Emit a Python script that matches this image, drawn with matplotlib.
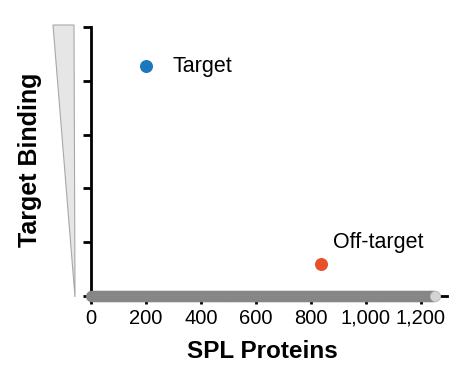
import numpy as np
import matplotlib
matplotlib.use("Agg")
import matplotlib.pyplot as plt
from matplotlib.patches import Polygon

plt.rcParams['font.family'] = ['Liberation Sans', 'DejaVu Sans']

# Data
protein_index = np.arange(1, 1251)          # SPL proteins
protein_binding = np.zeros(len(protein_index))
target_x, target_y = [200], [4.27]
offtarget_x, offtarget_y = [835], [0.6]
x_ticks = [0, 200, 400, 600, 800, 1000, 1200]
x_ticklabels = ['0', '200', '400', '600', '800', '1,000', '1,200']
y_ticks = [0, 1, 2, 3, 4, 5]

W, H = 460, 374
fig = plt.figure(figsize=(W / 100, H / 100), dpi=100)
ax = fig.add_axes([91 / W, 1 - 296 / H, (447 - 91) / W, (296 - 27) / H])

ax.scatter(protein_index[:-1], protein_binding[:-1], s=55, color='#767676',
           edgecolor='#8a8a8a', linewidth=0.6, zorder=3, clip_on=False)
ax.scatter(protein_index[-1:], protein_binding[-1:], s=55, color='#d4d4d4',
           edgecolor='#bdbdbd', linewidth=0.6, zorder=4, clip_on=False)
ax.scatter(target_x, target_y, s=70, color='#1c78bd', zorder=5, clip_on=False)
ax.scatter(offtarget_x, offtarget_y, s=70, color='#e8502a', zorder=5, clip_on=False)

ax.text(target_x[0] + 98, target_y[0], 'Target', fontsize=15.5, va='center', ha='left')
ax.text(offtarget_x[0] + 45, offtarget_y[0] + 0.4, 'Off-target', fontsize=15.5,
        va='center', ha='left')

ax.set_xlim(0, 1295)
ax.set_ylim(0, 5)
ax.set_xticks(x_ticks)
ax.set_xticklabels(x_ticklabels)
ax.set_yticks(y_ticks)
ax.set_yticklabels([])
ax.tick_params(axis='both', length=6, width=2, labelsize=14.5, pad=3)
for side in ['top', 'right']:
    ax.spines[side].set_visible(False)
for side in ['left', 'bottom']:
    ax.spines[side].set_linewidth(2)

ax.set_xlabel('SPL Proteins', fontsize=17.5, fontweight='bold', labelpad=6)
ax.xaxis.set_label_coords((262 - 91) / 356, -0.2)
ax.xaxis.label.set_va('center')
ax.xaxis.set_label_coords((262 - 91) / 356, -(352 - 296) / 269)
fig.text(30 / W, 1 - 160 / H, 'Target Binding', fontsize=18, fontweight='bold',
         rotation=90, ha='center', va='center')

# wedge
pts = [(53, 25), (74, 25), (75, 297)]
poly = Polygon([(x / W, 1 - y / H) for x, y in pts], closed=True,
               transform=fig.transFigure, facecolor='#e6e6e6',
               edgecolor='#a8a8a8', linewidth=0.8)
fig.patches.append(poly)

fig.savefig('out.png', dpi=100)
